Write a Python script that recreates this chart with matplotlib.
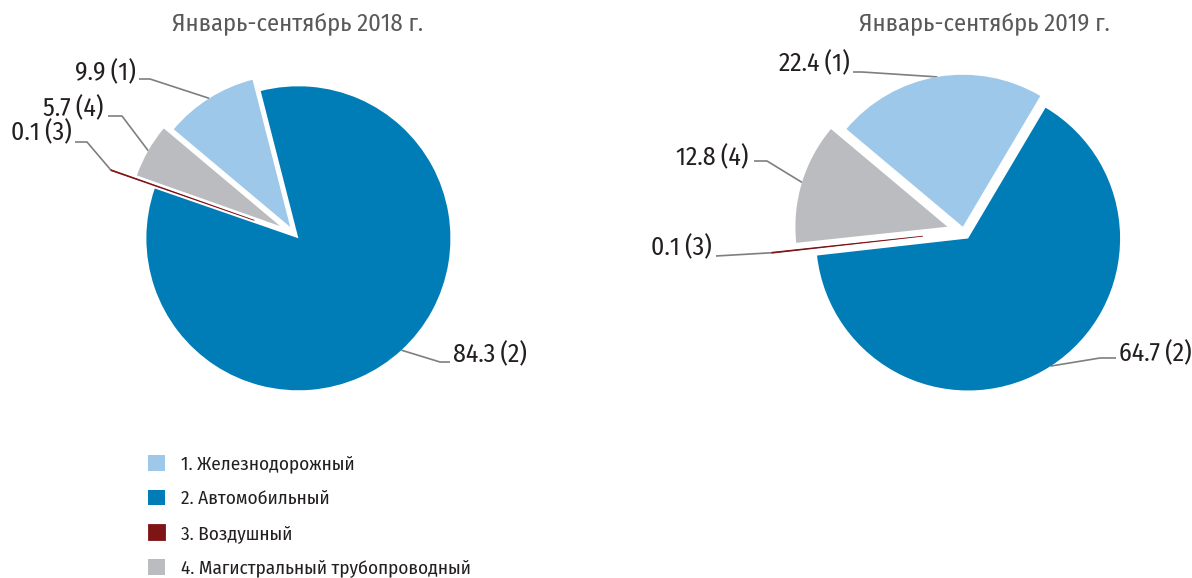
import matplotlib

matplotlib.use("Agg")
import matplotlib.pyplot as plt
import numpy as np

plt.rcParams["font.family"] = ["Fira Sans Condensed", "DejaVu Sans"]

# --- data ---------------------------------------------------------------------
CATEGORIES = ["Железнодорожный", "Автомобильный", "Воздушный",
              "Магистральный трубопроводный"]
TITLES = ["Январь-сентябрь 2018 г.", "Январь-сентябрь 2019 г."]
SHARE_2018 = [9.9, 84.3, 0.1, 5.7]
SHARE_2019 = [22.4, 64.7, 0.1, 12.8]
COLORS = ["#9dc8ea", "#007db7", "#7f1416", "#bbbcbf"]

# --- layout (pixels of the 1192x578 canvas) ------------------------------------
W, H = 1192, 578
R = 152  # pie radius

# per label: (text x, text y, ha, leader start x, elbow x, elbow y)
PIES = [
    dict(values=SHARE_2018, title=TITLES[0], title_xy=(298, 23),
         center=(295, 234.6), explode=[0.059, 0.033, 0.283, 0.112],
         labels=[(136, 73, "right", 139, 150, 79),
                 (453, 355, "left", 450, 440, 362),
                 (72, 133, "right", 75, 87, 142),
                 (103, 109, "right", 108, 122, 116)]),
    dict(values=SHARE_2019, title=TITLES[1], title_xy=(984, 23),
         center=(963.7, 231.7), explode=[0.033, 0.053, 0.27, 0.112],
         labels=[(850, 64, "right", 853, 862, 72),
                 (1119, 354, "left", 1116, 1100, 358),
                 (712, 248, "right", 716, 716, 256),
                 (748, 158, "right", 754, 767, 161)]),
]


def draw_pie(fig, spec):
    cx, cy = spec["center"]

    def px(x, y):
        return (x - cx) / R, (cy - y) / R

    ax = fig.add_axes([0, 0, 1, 1])
    wedges, _ = ax.pie(spec["values"], colors=COLORS, startangle=140,
                       counterclock=False, explode=spec["explode"],
                       wedgeprops=dict(linewidth=0))
    # the 0.1 % slice is thinner than a pixel, give it a hairline outline
    wedges[2].set_edgecolor(COLORS[2])
    wedges[2].set_linewidth(0.6)
    ax.set_xlim(-cx / R, (W - cx) / R)
    ax.set_ylim(-(H - cy) / R, cy / R)
    ax.set_aspect("auto")
    ax.axis("off")
    ax.patch.set_visible(False)

    for i, (w, lab) in enumerate(zip(wedges, spec["labels"])):
        tx, ty, ha, sx, ex, ey = lab
        mid = np.deg2rad((w.theta1 + w.theta2) / 2)
        ax_, ay_ = w.center[0] + w.r * np.cos(mid), w.center[1] + w.r * np.sin(mid)
        p0, p1 = px(sx, ey), px(ex, ey)
        ax.plot([p0[0], p1[0], ax_], [p0[1], p1[1], ay_], color="#7f7f7f",
                lw=1.2, solid_capstyle="butt", zorder=0)
        ax.text(*px(tx, ty), f"{spec['values'][i]}\u2009({i + 1})", ha=ha,
                va="center", fontsize=18.5, color="#231f20")

    fig.text(spec["title_xy"][0] / W, 1 - spec["title_xy"][1] / H, spec["title"],
             ha="center", va="center", fontsize=17.6, color="#595959")
    return wedges


fig = plt.figure(figsize=(W / 100, H / 100), dpi=100)
handles = None
for spec in PIES:
    handles = draw_pie(fig, spec)

fig.legend(handles, [f"{i + 1}. {c}" for i, c in enumerate(CATEGORIES)],
           loc="upper left", bbox_to_anchor=(148 / W, 1 - 455 / H),
           frameon=False, fontsize=13.8, handlelength=0.9, handleheight=0.9,
           handletextpad=0.82, labelspacing=0.85, borderpad=0, borderaxespad=0,
           labelcolor="#231f20")

fig.savefig("out.png", dpi=100)
